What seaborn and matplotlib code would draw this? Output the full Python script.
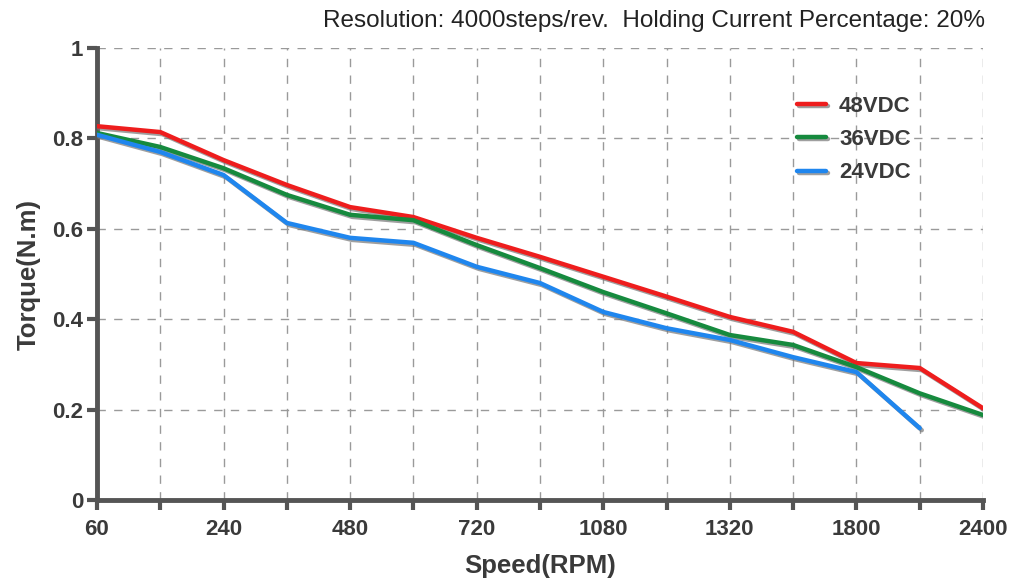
import numpy as np
import pandas as pd
import seaborn as sns
import matplotlib.pyplot as plt
import matplotlib.patheffects as pe

# speed points along the axis (only every other one is labelled)
speeds = [60, 120, 240, 360, 480, 600, 720, 900, 1080, 1200, 1320, 1560, 1800, 2100, 2400]
tick_labels = ["60", "", "240", "", "480", "", "720", "", "1080", "", "1320", "", "1800", "", "2400"]

torque_48 = [0.827, 0.814, 0.752, 0.697, 0.648, 0.626, 0.580, 0.538, 0.494, 0.450, 0.405, 0.372, 0.303, 0.292, 0.203]
torque_36 = [0.812, 0.781, 0.734, 0.675, 0.631, 0.619, 0.564, 0.513, 0.460, 0.413, 0.365, 0.343, 0.294, 0.236, 0.188]
torque_24 = [0.808, 0.770, 0.719, 0.613, 0.580, 0.569, 0.516, 0.480, 0.416, 0.380, 0.354, 0.316, 0.283, 0.159]

series = ["48VDC", "36VDC", "24VDC"]
colors = {"48VDC": "#ee1d1d", "36VDC": "#168a3e", "24VDC": "#1f86ee"}

rows = []
for name, vals in zip(series, [torque_48, torque_36, torque_24]):
    for i, v in enumerate(vals):
        rows.append((i, speeds[i], v, name))
df = pd.DataFrame(rows, columns=["pos", "speed", "torque", "voltage"])

sns.set_style("white")
plt.rcParams['font.family'] = ['Liberation Sans', 'DejaVu Sans']

fig = plt.figure(figsize=(10.12, 5.81), dpi=100)
ax = fig.add_axes([97 / 1012, 1 - 500 / 581, 886 / 1012, 452 / 581])

shadow = [pe.SimpleLineShadow(offset=(1.5, -1.5), shadow_color="#777777", alpha=0.7), pe.Normal()]
sns.lineplot(data=df, x="pos", y="torque", hue="voltage", hue_order=series,
             palette=colors, linewidth=3.2, ax=ax, zorder=3)
for line in ax.get_lines():
    line.set_path_effects(shadow)

ax.set_xlim(0, 14)
ax.set_ylim(0, 1)
ax.set_xticks(range(len(speeds)))
ax.set_xticklabels(tick_labels)
ax.set_yticks([0, 0.2, 0.4, 0.6, 0.8, 1])
ax.set_yticklabels(["0", "0.2", "0.4", "0.6", "0.8", "1"])

grey = "#555555"
ax.grid(True, color="#9a9a9a", linestyle=(0, (6, 6)), linewidth=1)
for s in ["top", "right"]:
    ax.spines[s].set_visible(False)
for s in ["left", "bottom"]:
    ax.spines[s].set_color(grey)
    ax.spines[s].set_linewidth(3.5)
ax.tick_params(axis="both", which="major", direction="out", length=7, width=3,
               color=grey, labelsize=16, labelcolor="#3a3a3a", bottom=True, left=True)
ax.tick_params(axis="x", pad=7)
ax.tick_params(axis="y", pad=3)
for t in ax.get_xticklabels() + ax.get_yticklabels():
    t.set_fontweight("bold")

ax.set_xlabel("Speed(RPM)", fontsize=18.5, fontweight="bold", color="#3a3a3a", labelpad=10)
ax.set_ylabel("Torque(N.m)", fontsize=18.5, fontweight="bold", color="#3a3a3a", labelpad=8)

fig.text(985 / 1012, 1 - 21 / 581, "Resolution: 4000steps/rev.  Holding Current Percentage: 20%",
         ha="right", va="center", fontsize=17.5, color="#222222")

leg = ax.legend(loc="upper left", bbox_to_anchor=((788 - 97) / 886, (500 - 87) / 452),
                frameon=False, fontsize=16, handlelength=1.3, labelspacing=0.55,
                handletextpad=0.6, borderaxespad=0)
for t in leg.get_texts():
    t.set_fontweight("bold")
    t.set_color("#3a3a3a")

fig.savefig("out.png", dpi=100, facecolor="white")
